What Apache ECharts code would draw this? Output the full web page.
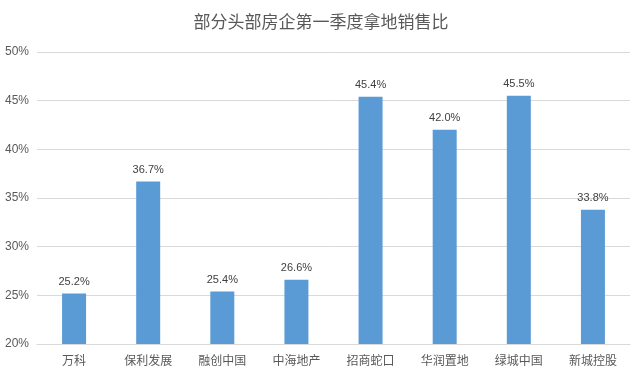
<!DOCTYPE html>
<html>
<head>
<meta charset="utf-8">
<style>
  html, body { margin: 0; padding: 0; background: #fff; }
  #main { width: 642px; height: 376px; }
</style>
<script src="https://cdn.jsdelivr.net/npm/echarts@6/dist/echarts.min.js"></script>
</head>
<body>
<div id="main"></div>
<script>
var categories = ['万科', '保利发展', '融创中国', '中海地产', '招商蛇口', '华润置地', '绿城中国', '新城控股'];
var ratios = [25.2, 36.7, 25.4, 26.6, 45.4, 42.0, 45.5, 33.8];

var chart = echarts.init(document.getElementById('main'));
var option = {
  animation: false,
  title: {
    text: '部分头部房企第一季度拿地销售比',
    left: 'center',
    top: 8,
    textStyle: {
      color: '#595959',
      fontSize: 17,
      fontWeight: 'normal',
      fontFamily: 'Noto Sans CJK SC'
    }
  },
  grid: { left: 37, right: 12, top: 52, bottom: 32 },
  xAxis: {
    type: 'category',
    data: categories,
    axisTick: { show: false },
    axisLine: { lineStyle: { color: '#d9d9d9' } },
    axisLabel: {
      color: '#595959',
      fontSize: 12,
      margin: 10,
      fontFamily: 'Noto Sans CJK SC'
    }
  },
  yAxis: {
    type: 'value',
    min: 20,
    max: 50,
    interval: 5,
    axisLine: { show: false },
    axisTick: { show: false },
    splitLine: { lineStyle: { color: '#d9d9d9' } },
    axisLabel: {
      color: '#595959',
      fontSize: 12,
      margin: 8,
      formatter: '{value}%'
    }
  },
  series: [{
    type: 'bar',
    data: ratios,
    barWidth: 24,
    itemStyle: { color: '#5b9bd5' },
    label: {
      show: true,
      position: 'top',
      distance: 6,
      color: '#404040',
      fontSize: 11,
      formatter: function (p) { return p.value.toFixed(1) + '%'; }
    }
  }]
};
chart.setOption(option);
</script>
</body>
</html>
